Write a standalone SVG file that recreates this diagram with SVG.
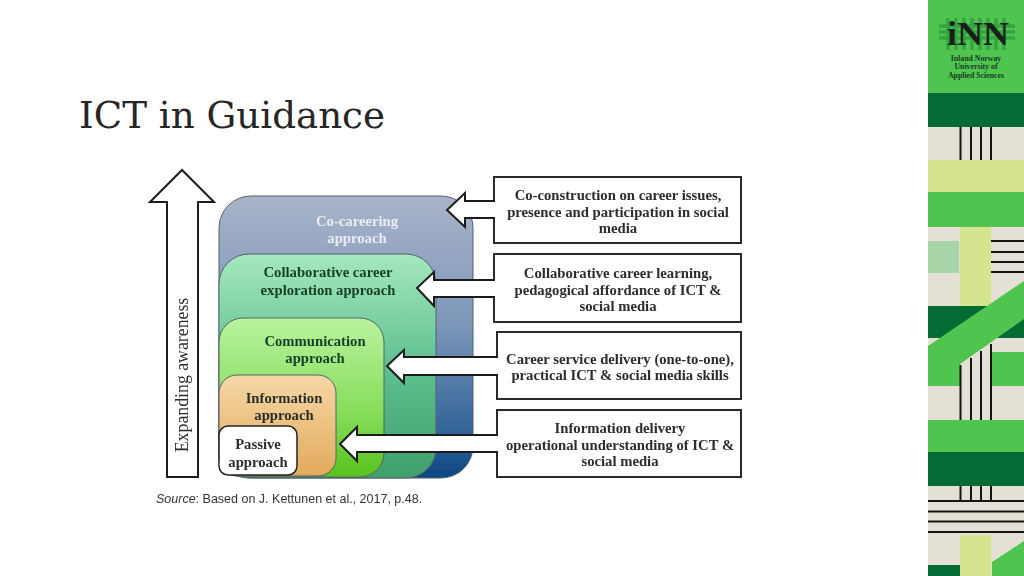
<svg xmlns="http://www.w3.org/2000/svg" width="1024" height="576" viewBox="0 0 1024 576">
<style>
.t{font-family:"Liberation Serif",serif;font-weight:bold;font-size:14.700px;fill:#2a2f2b;text-anchor:middle}
.g{fill:#123f26}
.box{fill:#fff;stroke:#2b2b2b;stroke-width:2}
.fillw{fill:#fff;stroke:none}
.arrow{fill:none;stroke:#1a1a1a;stroke-width:2;stroke-linejoin:miter}
.edge{stroke:#55606a;stroke-width:1}
.ln{stroke:#15150f;stroke-width:2;fill:none}
.side{font-family:"Liberation Serif",serif;font-weight:bold;font-size:7.800px;fill:#1c3a24;text-anchor:middle}
</style>
<defs>
<filter id="soft" x="-5%" y="-5%" width="110%" height="110%"><feGaussianBlur stdDeviation="0.4"/></filter>
<linearGradient id="g1" x1="0" y1="0" x2="0" y2="1"><stop offset="0" stop-color="#a9b3c9"/><stop offset=".45" stop-color="#7d97ba"/><stop offset=".85" stop-color="#2f6297"/><stop offset="1" stop-color="#0b4684"/></linearGradient>
<linearGradient id="g2" x1="0" y1="0" x2="0" y2="1"><stop offset="0" stop-color="#a6e8bd"/><stop offset=".5" stop-color="#5fc091"/><stop offset="1" stop-color="#3f9f6b"/></linearGradient>
<linearGradient id="g3" x1="0" y1="0" x2="0" y2="1"><stop offset="0" stop-color="#b9f3a0"/><stop offset=".6" stop-color="#86dd5a"/><stop offset="1" stop-color="#58c31c"/></linearGradient>
<linearGradient id="g4" x1="0" y1="0" x2="0" y2="1"><stop offset="0" stop-color="#f6d8a6"/><stop offset="1" stop-color="#e2aa5c"/></linearGradient>
</defs>
<rect width="1024" height="576" fill="#fff"/>
<text id="title" x="79" y="128" font-family="'DejaVu Serif',serif" font-size="38" fill="#262626" textLength="306" lengthAdjust="spacingAndGlyphs">ICT in Guidance</text>

<g id="sidebar">
<rect x="928" y="0" width="96" height="576" fill="#e4e0d6"/>
<rect x="928" y="0" width="96" height="93" fill="#4fc44f"/>
<rect x="928" y="93" width="96" height="34" fill="#056b35"/>
<rect x="928" y="160" width="96" height="32" fill="#d5e58f"/>
<rect x="928" y="192" width="96" height="35" fill="#4fc44f"/>
<rect x="960" y="227" width="31" height="79" fill="#d5e58f"/>
<rect x="928" y="241" width="31" height="32" fill="#a8d5a8"/>
<rect x="928" y="306" width="96" height="32" fill="#056b35"/>
<path class="ln" d="M960.500 127V160M971 127V160M981 127V160M991 127V160M991 241H1024M991 252H1024M991 262H1024M991 272H1024"/>
<rect x="991" y="352" width="33" height="34" fill="#4fc44f"/>
<polygon points="928,346 1024,281 1024,319 960,364 960,386 928,386" fill="#4fc44f"/>
<path class="ln" d="M960.500 365V420M971 358V420M981 351V420M991 344V420"/>
<rect x="928" y="420" width="96" height="32" fill="#4fc44f"/>
<rect x="928" y="452" width="96" height="34" fill="#056b35"/>
<path class="ln" d="M960.500 486V501M971 486V501M981 486V501M991 486V501M928 501H1024M928 511.500H1024M928 521.500H1024M928 532H1024"/>
<rect x="960" y="535" width="31" height="41" fill="#d5e58f"/>
<rect x="928" y="565" width="32" height="11" fill="#056b35"/>
<polygon points="992,562 1024,541 1024,576 992,576" fill="#4fc44f"/>
<g id="logo">
<path d="M939 26H1015M939 32H1015M939 38H1015M948 18V50M956 18V50M964 18V50M972 18V50M980 18V50M988 18V50M996 18V50M1004 18V50" stroke="#36a242" stroke-width="3.500" fill="none"/>
<text x="978" y="45" font-family="'Liberation Serif',serif" font-weight="bold" font-size="34" fill="#142018" text-anchor="middle" textLength="62" lengthAdjust="spacingAndGlyphs">iNN</text>
<text class="side" x="976" y="61">Inland Norway</text>
<text class="side" x="976" y="69">University of</text>
<text class="side" x="976" y="78">Applied Sciences</text>
</g>
</g>

<g filter="url(#soft)">
<g id="co-careering"><rect class="edge" x="219" y="196" width="254" height="282" rx="32" fill="url(#g1)"/>
<text class="t" x="357" y="226" style="fill:#e9edf5">Co-careering</text><text class="t" x="357" y="243" style="fill:#e9edf5">approach</text></g>
<g id="collaborative"><rect class="edge" x="219" y="254" width="217" height="224" rx="30" fill="url(#g2)"/>
<text class="t g" x="328" y="277">Collaborative career</text><text class="t g" x="328" y="295">exploration approach</text></g>
<g id="communication"><rect class="edge" x="219" y="318" width="165" height="159" rx="24" fill="url(#g3)"/>
<text class="t g" x="315" y="346">Communication</text><text class="t g" x="315" y="363">approach</text></g>
<g id="information"><rect class="edge" x="219" y="375" width="117" height="101" rx="18" fill="url(#g4)"/>
<text class="t" x="284" y="403">Information</text><text class="t" x="284" y="420">approach</text></g>
<g id="passive"><rect x="219" y="426" width="78" height="49" rx="9" fill="#fff" stroke="#222" stroke-width="1.500"/>
<text class="t" x="258" y="449">Passive</text><text class="t" x="258" y="467">approach</text></g>

<g id="box1"><rect class="box" x="494" y="177" width="247" height="66"/>
<text class="t" x="618" y="200">Co-construction on career issues,</text><text class="t" x="618" y="217">presence and participation in social</text><text class="t" x="618" y="233">media</text></g>
<g id="box2"><rect class="box" x="494" y="254" width="247" height="68"/>
<text class="t" x="618" y="278">Collaborative career learning,</text><text class="t" x="618" y="295">pedagogical affordance of ICT &amp;</text><text class="t" x="618" y="311">social media</text></g>
<g id="box3"><rect class="box" x="497" y="332" width="244" height="67"/>
<text class="t" x="620" y="364">Career service delivery (one-to-one),</text><text class="t" x="620" y="380">practical ICT &amp; social media skills</text></g>
<g id="box4"><rect class="box" x="497" y="410" width="244" height="67"/>
<text class="t" x="620" y="433">Information delivery</text><text class="t" x="620" y="450">operational understanding of ICT &amp;</text><text class="t" x="620" y="466">social media</text></g>

<g id="connectors">
<polygon class="fillw" points="496,201 465,201 465,193 447,210 465,227 465,218 496,218"/>
<polyline class="arrow" points="495,201 465,201 465,193 447,210 465,227 465,218 495,218"/>
<polygon class="fillw" points="499,280 434,280 434,272 417,288 434,306 434,297 496,297"/>
<polyline class="arrow" points="495,280 434,280 434,272 417,288 434,306 434,297 495,297"/>
<polygon class="fillw" points="499,357 404,357 404,350 387,366 404,383 404,375 499,375"/>
<polyline class="arrow" points="498,357 404,357 404,350 387,366 404,383 404,375 498,375"/>
<polygon class="fillw" points="499,435 357,435 357,427 340,444 357,461 357,452 499,452"/>
<polyline class="arrow" points="498,435 357,435 357,427 340,444 357,461 357,452 498,452"/>
<polygon class="arrow" style="fill:#fff" points="167,477 198,477 198,202 214,202 182,170 150,202 167,202"/>
</g>
<text id="axis-label" class="t" transform="translate(187.500 375) rotate(-90)" style="font-weight:normal;font-size:17.800px">Expanding awareness</text>
<text id="source" x="156" y="503" font-family="'Liberation Sans',sans-serif" font-size="12.500" fill="#333"><tspan font-style="italic">Source</tspan>: Based on J. Kettunen et al., 2017, p.48.</text>
</g>
</svg>
